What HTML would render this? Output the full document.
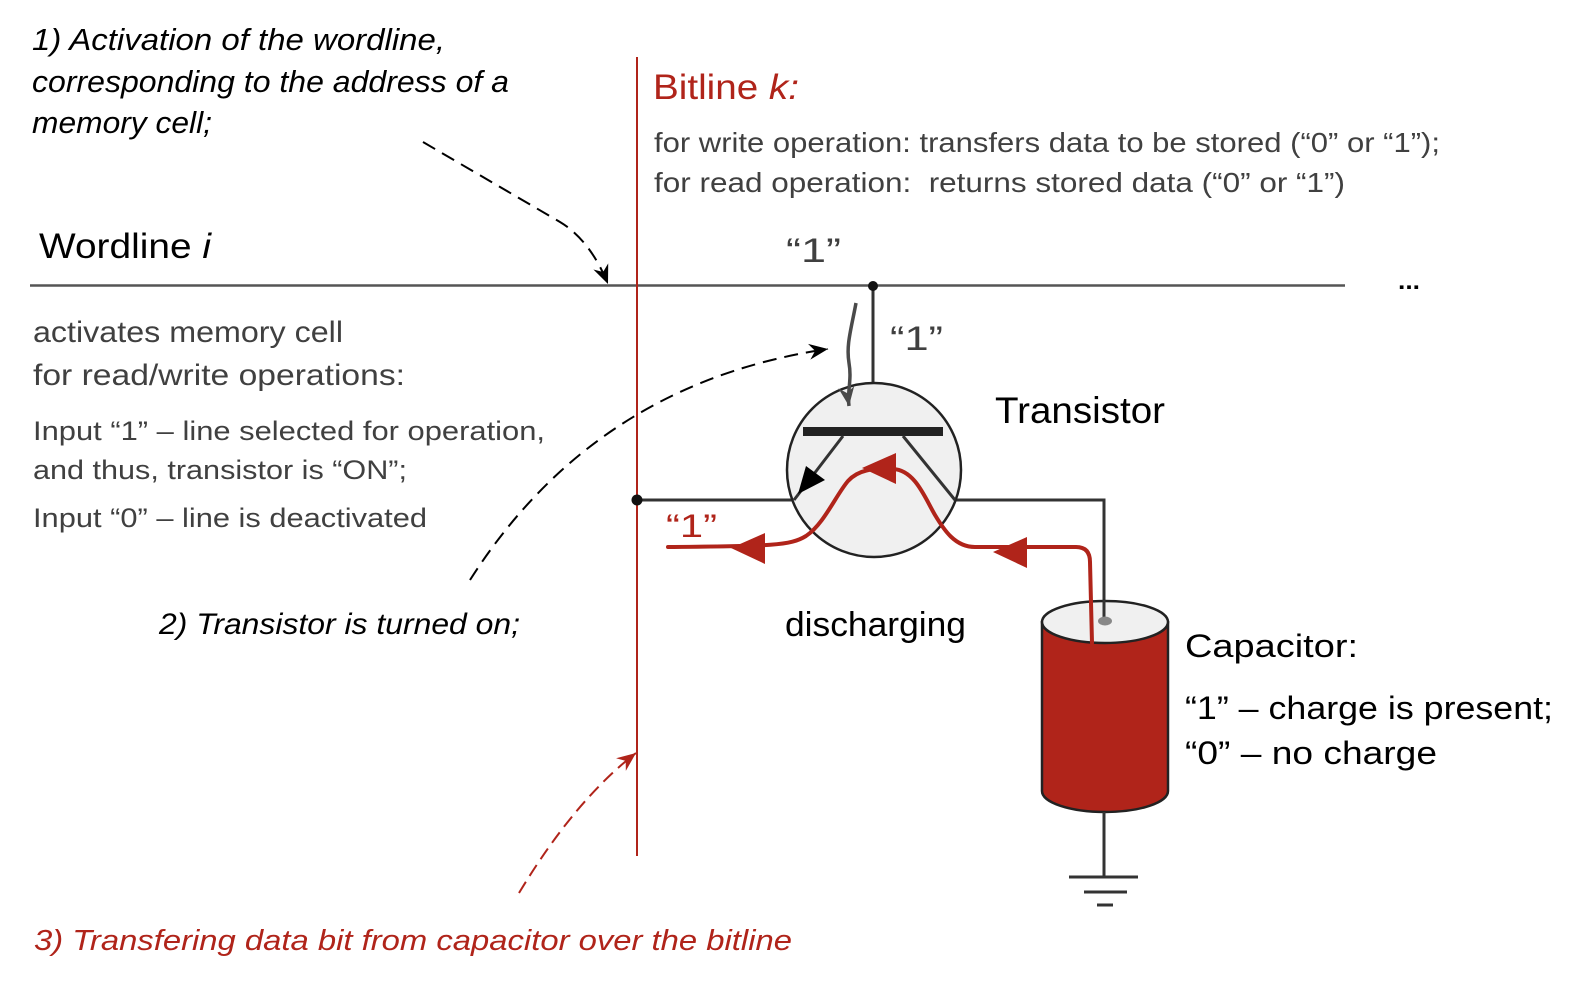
<!DOCTYPE html>
<html>
<head>
<meta charset="utf-8">
<style>
  html, body { margin: 0; padding: 0; background: #ffffff; }
  svg { display: block; }
  text { font-family: "Liberation Sans", "DejaVu Sans", sans-serif; }
</style>
</head>
<body>
<svg width="1580" height="984" viewBox="0 0 1580 984" xmlns="http://www.w3.org/2000/svg">
  <defs>
    <marker id="ab" viewBox="-20 -10 22 20" markerWidth="22" markerHeight="20" refX="0" refY="0" orient="auto" markerUnits="userSpaceOnUse">
      <path d="M0,0 L-19,-8 L-13,0 L-19,8 Z" fill="#000"/>
    </marker>
    <marker id="ag" viewBox="-20 -10 22 20" markerWidth="22" markerHeight="20" refX="0" refY="0" orient="auto" markerUnits="userSpaceOnUse">
      <path d="M0,0 L-19,-8 L-13,0 L-19,8 Z" fill="#4a4a4a"/>
    </marker>
    <marker id="ar" viewBox="-20 -10 22 20" markerWidth="22" markerHeight="20" refX="0" refY="0" orient="auto" markerUnits="userSpaceOnUse">
      <path d="M0,0 L-19,-8 L-13,0 L-19,8 Z" fill="#B0241A"/>
    </marker>
  </defs>

  <rect x="0" y="0" width="1580" height="984" fill="#ffffff"/>

  <!-- Wordline -->
  <line x1="30" y1="285.5" x2="1345" y2="285.5" stroke="#555" stroke-width="2.5"/>
  <text x="1398" y="289" font-size="24" font-weight="bold" fill="#000" textLength="22" lengthAdjust="spacingAndGlyphs">...</text>

  <!-- Bitline -->
  <line x1="637" y1="57" x2="637" y2="856" stroke="#B0241A" stroke-width="2"/>

  <!-- Gate line -->
  <line x1="873" y1="286" x2="873" y2="428" stroke="#333" stroke-width="3"/>
  <circle cx="873" cy="286" r="5" fill="#111"/>

  <!-- Left wire to bitline -->
  <line x1="637" y1="500" x2="795" y2="500" stroke="#333" stroke-width="3"/>
  <circle cx="637" cy="500" r="5.5" fill="#111"/>

  <!-- Right wire to capacitor -->
  <polyline points="953,500 1104,500 1104,620" fill="none" stroke="#333" stroke-width="3"/>

  <!-- Transistor circle -->
  <circle cx="874" cy="470" r="87" fill="#f0f0f0" stroke="#222" stroke-width="2.5"/>
  <rect x="803" y="427" width="140" height="9" fill="#222"/>
  <line x1="843" y1="436" x2="794" y2="500" stroke="#333" stroke-width="3"/>
  <line x1="903" y1="436" x2="955" y2="500" stroke="#333" stroke-width="3"/>
  <polygon points="798,494 806,466 825,480" fill="#000"/>

  <!-- Capacitor -->
  <path d="M1042,622 L1042,791 A63,21 0 0,0 1168,791 L1168,622 Z" fill="#B0241A" stroke="#222" stroke-width="2.5"/>
  <ellipse cx="1105" cy="622" rx="63" ry="21" fill="#f0f0f0" stroke="#222" stroke-width="2.5"/>
  <line x1="1104" y1="600" x2="1104" y2="620" stroke="#333" stroke-width="3"/>
  <ellipse cx="1105" cy="621" rx="7" ry="4.5" fill="#888"/>

  <!-- Ground -->
  <line x1="1104" y1="812" x2="1104" y2="877" stroke="#333" stroke-width="3"/>
  <line x1="1069" y1="877" x2="1138" y2="877" stroke="#333" stroke-width="3"/>
  <line x1="1084" y1="892" x2="1127" y2="892" stroke="#333" stroke-width="3"/>
  <line x1="1097" y1="905" x2="1113" y2="905" stroke="#333" stroke-width="3"/>

  <!-- Red current path -->
  <path d="M1092,643 L1090,562 Q1090,547 1076,547 L975,547 C955,547 944,530 935,515 C925,498 915,470 893,469 C872,468 858,470 848,481 C836,495 824,524 806,536 C790,546 770,546 668,547"
        fill="none" stroke="#B0241A" stroke-width="4" stroke-linecap="round"/>
  <polygon points="993,552 1027,537 1027,568" fill="#B0241A"/>
  <polygon points="862,468 896,453 896,484" fill="#B0241A"/>
  <polygon points="731,548 765,533 765,564" fill="#B0241A"/>

  <!-- Gray wavy arrow -->
  <path d="M856,303 C851,330 846,345 849,363 C852,380 847,392 849,406" fill="none" stroke="#4a4a4a" stroke-width="3.5" marker-end="url(#ag)"/>

  <!-- Dashed arrow 1 -->
  <path d="M423,142 L560,222 Q590,240 608,284" fill="none" stroke="#000" stroke-width="2" stroke-dasharray="14 8" marker-end="url(#ab)"/>

  <!-- Dashed arrow 2 -->
  <path d="M470,580 C540,470 650,375 828,349" fill="none" stroke="#000" stroke-width="2" stroke-dasharray="14 8" marker-end="url(#ab)"/>

  <!-- Dashed arrow 3 (red) -->
  <path d="M519,893 Q575,800 636,753" fill="none" stroke="#B0241A" stroke-width="2" stroke-dasharray="13 7" marker-end="url(#ar)"/>

  <!-- Texts: top-left italic -->
  <text x="32" y="50" font-size="31" font-style="italic" fill="#000" textLength="413" lengthAdjust="spacingAndGlyphs">1) Activation of the wordline,</text>
  <text x="32" y="92" font-size="31" font-style="italic" fill="#000" textLength="477" lengthAdjust="spacingAndGlyphs">corresponding to the address of a</text>
  <text x="32" y="133" font-size="31" font-style="italic" fill="#000" textLength="180" lengthAdjust="spacingAndGlyphs">memory cell;</text>

  <text x="39" y="258" font-size="35" fill="#000" textLength="172" lengthAdjust="spacingAndGlyphs">Wordline <tspan font-style="italic">i</tspan></text>

  <text x="33" y="342" font-size="30" fill="#404040" textLength="310" lengthAdjust="spacingAndGlyphs">activates memory cell</text>
  <text x="33" y="385" font-size="30" fill="#404040" textLength="372" lengthAdjust="spacingAndGlyphs">for read/write operations:</text>
  <text x="33" y="440" font-size="27" fill="#404040" textLength="512" lengthAdjust="spacingAndGlyphs">Input “1” – line selected for operation,</text>
  <text x="33" y="479" font-size="27" fill="#404040" textLength="374" lengthAdjust="spacingAndGlyphs">and thus, transistor is “ON”;</text>
  <text x="33" y="527" font-size="27" fill="#404040" textLength="394" lengthAdjust="spacingAndGlyphs">Input “0” – line is deactivated</text>

  <text x="159" y="634" font-size="30" font-style="italic" fill="#000" textLength="361" lengthAdjust="spacingAndGlyphs">2) Transistor is turned on;</text>

  <!-- Bitline texts -->
  <text x="653" y="99" font-size="35" fill="#B0241A" textLength="146" lengthAdjust="spacingAndGlyphs">Bitline <tspan font-style="italic">k:</tspan></text>
  <text x="654" y="152" font-size="28" fill="#404040" textLength="786" lengthAdjust="spacingAndGlyphs">for write operation: transfers data to be stored (“0” or “1”);</text>
  <text x="654" y="192" font-size="28" fill="#404040" textLength="691" lengthAdjust="spacingAndGlyphs" style="white-space:pre">for read operation:  returns stored data (“0” or “1”)</text>

  <text x="786" y="262" font-size="34" fill="#404040" textLength="55" lengthAdjust="spacingAndGlyphs">“1”</text>
  <text x="890" y="350" font-size="34" fill="#404040" textLength="53" lengthAdjust="spacingAndGlyphs">“1”</text>

  <text x="995" y="423" font-size="37" fill="#000" textLength="170" lengthAdjust="spacingAndGlyphs">Transistor</text>

  <text x="666" y="537" font-size="32" fill="#B0241A" textLength="51" lengthAdjust="spacingAndGlyphs">“1”</text>

  <text x="785" y="636" font-size="34" fill="#000" textLength="181" lengthAdjust="spacingAndGlyphs">discharging</text>

  <text x="1185" y="657" font-size="32" fill="#000" textLength="173" lengthAdjust="spacingAndGlyphs">Capacitor:</text>
  <text x="1185" y="719" font-size="32" fill="#000" textLength="368" lengthAdjust="spacingAndGlyphs">“1” – charge is present;</text>
  <text x="1185" y="764" font-size="32" fill="#000" textLength="252" lengthAdjust="spacingAndGlyphs">“0” – no charge</text>

  <text x="34" y="950" font-size="29" font-style="italic" fill="#B0241A" textLength="758" lengthAdjust="spacingAndGlyphs">3) Transfering data bit from capacitor over the bitline</text>
</svg>
</body>
</html>
